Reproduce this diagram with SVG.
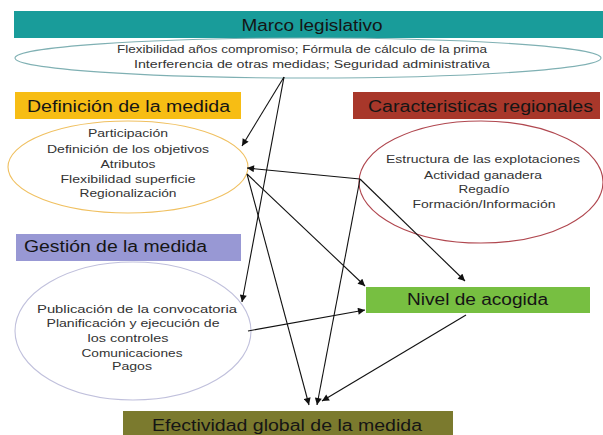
<svg xmlns="http://www.w3.org/2000/svg" width="603" height="435" viewBox="0 0 603 435">
<defs>
<style>
.t{font-family:"Liberation Sans",Arial,sans-serif;font-size:16px;fill:#151515;text-anchor:middle}
.s{font-family:"Liberation Sans",Arial,sans-serif;font-size:11px;fill:#333;text-anchor:middle}
.e{fill:#fff;stroke-width:1.1}
.c line{stroke:#111;stroke-width:1.1;fill:none}
</style>
<marker id="ah" viewBox="0 0 10 10" refX="10" refY="5" markerWidth="8" markerHeight="7" markerUnits="userSpaceOnUse" orient="auto">
<path d="M0,0 L10,5 L0,10 z" fill="#111"/>
</marker>
</defs>
<rect width="603" height="435" fill="#fff"/>

<g id="marco">
<rect x="14" y="11" width="589" height="27" fill="#199C9A"/>
<text class="t" x="312" y="31" textLength="141" lengthAdjust="spacingAndGlyphs">Marco legislativo</text>
<ellipse class="e" cx="308" cy="58" rx="293" ry="20" stroke="#7FB0B3"/>
<text class="s" x="302" y="53" textLength="370" lengthAdjust="spacingAndGlyphs">Flexibilidad años compromiso; Fórmula de cálculo de la prima</text>
<text class="s" x="312" y="68" textLength="356" lengthAdjust="spacingAndGlyphs">Interferencia de otras medidas; Seguridad administrativa</text>
</g>

<g id="definicion">
<rect x="15" y="92" width="226" height="27" fill="#F7BD14"/>
<text class="t" x="128.5" y="112" textLength="203" lengthAdjust="spacingAndGlyphs">Definición de la medida</text>
<ellipse class="e" cx="128" cy="167" rx="120" ry="46" stroke="#F0C060"/>
<text class="s" x="128" y="137" textLength="80" lengthAdjust="spacingAndGlyphs">Participación</text>
<text class="s" x="128" y="153" textLength="162" lengthAdjust="spacingAndGlyphs">Definición de los objetivos</text>
<text class="s" x="128" y="168" textLength="55" lengthAdjust="spacingAndGlyphs">Atributos</text>
<text class="s" x="128" y="183" textLength="135" lengthAdjust="spacingAndGlyphs">Flexibilidad superficie</text>
<text class="s" x="128" y="197" textLength="97" lengthAdjust="spacingAndGlyphs">Regionalización</text>
</g>

<g id="caracteristicas">
<rect x="353" y="92" width="247" height="27" fill="#A8372A"/>
<text class="t" x="480.5" y="112" textLength="225" lengthAdjust="spacingAndGlyphs">Caracteristicas regionales</text>
<ellipse class="e" cx="481" cy="182" rx="122" ry="61" stroke="#B0474F"/>
<text class="s" x="483" y="163" textLength="194" lengthAdjust="spacingAndGlyphs">Estructura de las explotaciones</text>
<text class="s" x="483" y="179" textLength="118" lengthAdjust="spacingAndGlyphs">Actividad ganadera</text>
<text class="s" x="484" y="193" textLength="51" lengthAdjust="spacingAndGlyphs">Regadío</text>
<text class="s" x="484" y="208" textLength="143" lengthAdjust="spacingAndGlyphs">Formación/Información</text>
</g>

<g id="gestion">
<rect x="16" y="234" width="225" height="27" fill="#9898D4"/>
<text class="t" x="115.5" y="252" textLength="183" lengthAdjust="spacingAndGlyphs">Gestión de la medida</text>
<ellipse class="e" cx="133" cy="331" rx="118" ry="69" stroke="#C0C0DC"/>
<text class="s" x="137" y="313" textLength="200" lengthAdjust="spacingAndGlyphs">Publicación de la convocatoria</text>
<text class="s" x="133" y="327" textLength="173" lengthAdjust="spacingAndGlyphs">Planificación y ejecución de</text>
<text class="s" x="128" y="342" textLength="81" lengthAdjust="spacingAndGlyphs">los controles</text>
<text class="s" x="132" y="357" textLength="101" lengthAdjust="spacingAndGlyphs">Comunicaciones</text>
<text class="s" x="132" y="370" textLength="40" lengthAdjust="spacingAndGlyphs">Pagos</text>
</g>

<g id="nivel">
<rect x="366" y="287" width="224" height="26" fill="#77BF41"/>
<text class="t" x="477.5" y="305" textLength="141" lengthAdjust="spacingAndGlyphs">Nivel de acogida</text>
</g>

<g id="efectividad">
<rect x="123" y="411" width="330" height="26" fill="#7B7A2E"/>
<text class="t" x="287" y="431" textLength="270" lengthAdjust="spacingAndGlyphs">Efectividad global de la medida</text>
</g>

<g id="connectors" class="c">
<line x1="284" y1="77" x2="242" y2="146" marker-end="url(#ah)"/>
<line x1="284" y1="77" x2="242" y2="302" marker-end="url(#ah)"/>
<line x1="247" y1="174" x2="309" y2="405" marker-end="url(#ah)"/>
<line x1="247" y1="174" x2="365" y2="286" marker-end="url(#ah)"/>
<line x1="360" y1="179" x2="247" y2="168" marker-end="url(#ah)"/>
<line x1="360" y1="179" x2="317" y2="405" marker-end="url(#ah)"/>
<line x1="360" y1="179" x2="465" y2="281" marker-end="url(#ah)"/>
<line x1="248" y1="331" x2="365" y2="310" marker-end="url(#ah)"/>
<line x1="466" y1="315" x2="322" y2="401" marker-end="url(#ah)"/>
</g>
</svg>
